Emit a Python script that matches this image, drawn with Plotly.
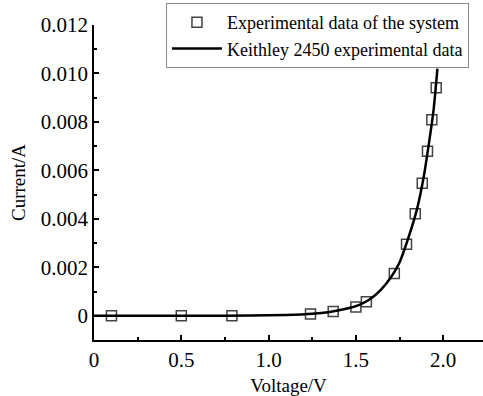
import plotly.graph_objects as go

# Measured points (system)
sys_voltage = [0.10, 0.50, 0.79, 1.24, 1.37, 1.50, 1.56, 1.72, 1.79, 1.84, 1.88, 1.91, 1.935, 1.96]
sys_current = [0.0, 0.0, 0.0, 0.00007, 0.00018, 0.00036, 0.00058, 0.00174, 0.00295, 0.00421,
               0.00547, 0.00679, 0.00809, 0.00941]

# Keithley 2450 curve
k_voltage = [0.0, 0.3, 0.6, 0.9, 1.1, 1.25, 1.35, 1.45, 1.52, 1.58, 1.64, 1.70, 1.75,
             1.80, 1.85, 1.89, 1.92, 1.945, 1.967]
k_current = [0.0, 0.0, 0.0, 0.00001, 0.00003, 0.00008, 0.00016, 0.0003, 0.00045, 0.00068,
             0.00105, 0.00158, 0.0022, 0.0032, 0.0044, 0.0058, 0.0072, 0.0085, 0.0102]

x_tickvals = [0, 0.5, 1.0, 1.5, 2.0]
x_ticktext = ["0", "0.5", "1.0", "1.5", "2.0"]
y_tickvals = [0, 0.002, 0.004, 0.006, 0.008, 0.010, 0.012]
y_ticktext = ["0", "0.002", "0.004", "0.006", "0.008", "0.010", "0.012"]

FONT = "Liberation Serif, Times New Roman, serif"

fig = go.Figure()
fig.add_trace(go.Scatter(
    x=sys_voltage, y=sys_current, mode="markers",
    name="Experimental data of the system",
    marker=dict(symbol="square-open", size=10, color="#444444", line=dict(width=1.5)),
))
fig.add_trace(go.Scatter(
    x=k_voltage, y=k_current, mode="lines",
    name="Keithley 2450 experimental data",
    line=dict(color="black", width=2.5, shape="spline", smoothing=0.6),
))

axis_common = dict(
    showline=True, linecolor="black", linewidth=1.5, mirror=False,
    ticks="inside", ticklen=5, tickwidth=1.5, tickcolor="black",
    showgrid=False, zeroline=False,
    tickfont=dict(family=FONT, size=21, color="black"),
)

fig.update_xaxes(
    range=[0, 2.228], tickmode="array", tickvals=x_tickvals, ticktext=x_ticktext,
    minor=dict(ticks="inside", ticklen=3, tickcolor="black", tickwidth=1.5,
               tickmode="linear", tick0=0, dtick=0.25),
    title=dict(text="Voltage/V", font=dict(family=FONT, size=19, color="black")),
    automargin=False,
    **axis_common,
)
fig.update_yaxes(
    range=[-0.001, 0.012], tickmode="array", tickvals=y_tickvals, ticktext=y_ticktext,
    minor=dict(ticks="inside", ticklen=3, tickcolor="black", tickwidth=1.5,
               tickmode="linear", tick0=0, dtick=0.001),
    title=dict(text="Current/A", font=dict(family=FONT, size=19, color="black"), standoff=10),
    **axis_common,
)

fig.update_layout(
    width=483, height=396,
    margin=dict(l=94, r=0, t=25, b=56),
    paper_bgcolor="white", plot_bgcolor="white",
    font=dict(family=FONT, size=18, color="black"),
    legend=dict(
        x=0.185, xanchor="left", y=1.07, yanchor="top",
        bgcolor="white", bordercolor="#888888", borderwidth=1,
        font=dict(family=FONT, size=18, color="black"),
        itemwidth=50,
        entrywidth=300, entrywidthmode="pixels",
    ),
)

fig.write_html("out.html")
